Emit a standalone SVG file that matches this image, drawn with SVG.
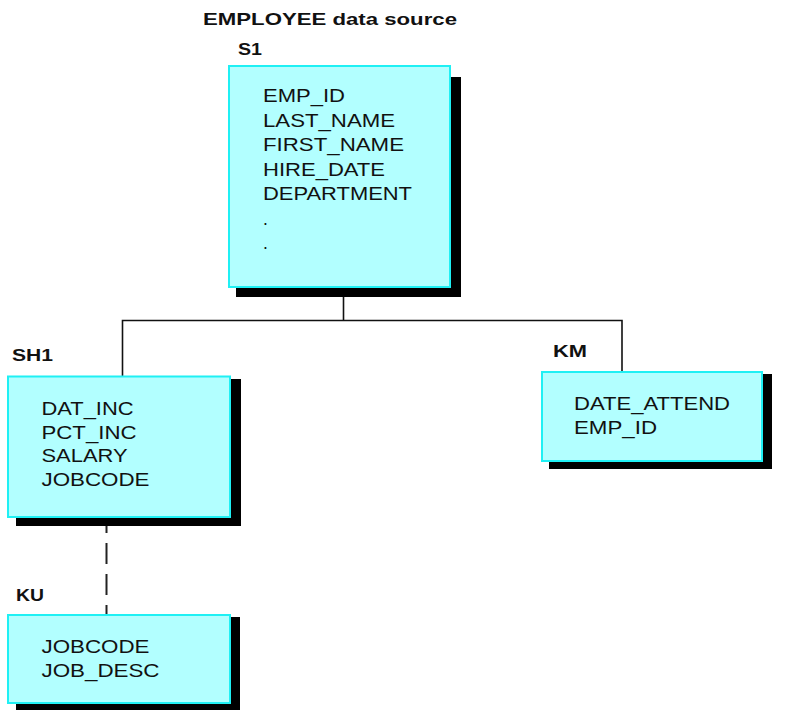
<svg xmlns="http://www.w3.org/2000/svg" width="808" height="710" viewBox="0 0 808 710">
<style>
.box{fill:#b2ffff;stroke:#1ff0f4;stroke-width:2}
.shadow{fill:#000}
.conn{stroke:#111;stroke-width:1.6;fill:none}
.dash{stroke:#222;stroke-width:2;fill:none;stroke-dasharray:21 10}
.f{font-family:"Liberation Sans",Arial,sans-serif;font-size:17.5px;fill:#111}
.lbl{font-family:"Liberation Sans",Arial,sans-serif;font-size:17px;font-weight:bold;fill:#111}
</style>
<rect width="808" height="710" fill="#fff"/>
<g id="connectors">
<polyline class="conn" points="343.5,287 343.5,320.5"/>
<polyline class="conn" points="122.5,376 122.5,320.5 622,320.5 622,372"/>
<line class="dash" x1="106.5" y1="512" x2="106.5" y2="615"/>
</g>
<text id="title" class="lbl" x="203" y="25" textLength="254" lengthAdjust="spacingAndGlyphs">EMPLOYEE data source</text>
<g id="S1">
<text class="lbl" x="238" y="55" textLength="24" lengthAdjust="spacingAndGlyphs">S1</text>
<rect class="shadow" x="236" y="77" width="225" height="220"/>
<rect class="box" x="229" y="66" width="221" height="221"/>
<text class="f" x="263" y="102" textLength="82" lengthAdjust="spacingAndGlyphs">EMP_ID</text>
<text class="f" x="263" y="126.5" textLength="132" lengthAdjust="spacingAndGlyphs">LAST_NAME</text>
<text class="f" x="263" y="151" textLength="141" lengthAdjust="spacingAndGlyphs">FIRST_NAME</text>
<text class="f" x="263" y="175.5" textLength="122" lengthAdjust="spacingAndGlyphs">HIRE_DATE</text>
<text class="f" x="263" y="200" textLength="149" lengthAdjust="spacingAndGlyphs">DEPARTMENT</text>
<text class="f" x="263" y="224.5">.</text>
<text class="f" x="263" y="249">.</text>
</g>
<g id="SH1">
<text class="lbl" x="12" y="361" textLength="41" lengthAdjust="spacingAndGlyphs">SH1</text>
<rect class="shadow" x="16" y="379" width="225" height="147"/>
<rect class="box" x="8" y="376.5" width="222" height="140.5"/>
<text class="f" x="41.5" y="415" textLength="92" lengthAdjust="spacingAndGlyphs">DAT_INC</text>
<text class="f" x="41.5" y="438.5" textLength="95" lengthAdjust="spacingAndGlyphs">PCT_INC</text>
<text class="f" x="41.5" y="462" textLength="86" lengthAdjust="spacingAndGlyphs">SALARY</text>
<text class="f" x="41.5" y="486" textLength="108" lengthAdjust="spacingAndGlyphs">JOBCODE</text>
</g>
<g id="KM">
<text class="lbl" x="553" y="357" textLength="34" lengthAdjust="spacingAndGlyphs">KM</text>
<rect class="shadow" x="549" y="374" width="223" height="95"/>
<rect class="box" x="542" y="372" width="220" height="89"/>
<text class="f" x="574" y="410" textLength="156" lengthAdjust="spacingAndGlyphs">DATE_ATTEND</text>
<text class="f" x="574" y="434" textLength="83" lengthAdjust="spacingAndGlyphs">EMP_ID</text>
</g>
<g id="KU">
<text class="lbl" x="16" y="601" textLength="28" lengthAdjust="spacingAndGlyphs">KU</text>
<rect class="shadow" x="16" y="617" width="224" height="95"/>
<rect class="box" x="8" y="615" width="222" height="88"/>
<text class="f" x="41.5" y="652.5" textLength="108" lengthAdjust="spacingAndGlyphs">JOBCODE</text>
<text class="f" x="41.5" y="676.5" textLength="118" lengthAdjust="spacingAndGlyphs">JOB_DESC</text>
</g>
</svg>
